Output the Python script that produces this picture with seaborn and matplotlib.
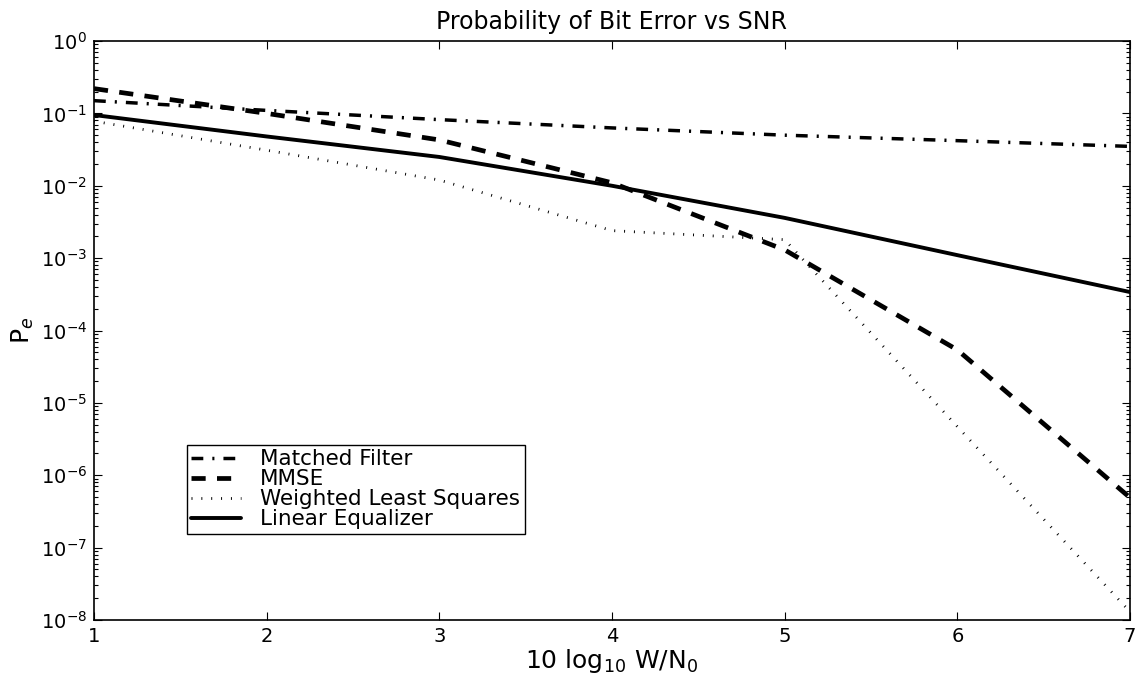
import numpy as np
import pandas as pd
import matplotlib
matplotlib.use("Agg")
import matplotlib.pyplot as plt
import matplotlib.ticker as mticker
import seaborn as sns

# SNR grid, 10 log10 W/N0
snr_db = [1, 2, 3, 4, 5, 6, 7]

# bit error probability
matched_filter = [0.15, 0.11, 0.082, 0.063, 0.050, 0.042, 0.035]
mmse = [0.22, 0.10, 0.043, 0.011, 0.0013, 5.4e-5, 4.9e-7]
weighted_ls = [0.078, 0.031, 0.012, 0.0024, 0.0018, 4.7e-6, 1.3e-8]
linear_eq = [0.095, 0.048, 0.025, 0.010, 0.0036, 1.1e-3, 3.4e-4]

methods = ["Matched Filter", "MMSE", "Weighted Least Squares", "Linear Equalizer"]

df = pd.DataFrame({
    "snr": snr_db * 4,
    "pe": matched_filter + mmse + weighted_ls + linear_eq,
    "method": [m for m in methods for _ in snr_db],
})

sns.set_style("ticks")
plt.rcParams["font.family"] = ["DejaVu Sans"]
plt.rcParams["mathtext.fontset"] = "dejavusans"
for key in ["text.color", "axes.labelcolor", "xtick.color", "ytick.color", "axes.edgecolor"]:
    plt.rcParams[key] = "black"

fig = plt.figure(figsize=(11.35, 6.77), dpi=100)
ax = fig.add_axes([0.0828, 0.0842, 0.9128, 0.8552])

# dash patterns in linewidth units, matlab-ish
dash_styles = {
    "Matched Filter": (3.4, 2.6, 0.6, 2.6),
    "MMSE": (3.0, 2.4),
    "Weighted Least Squares": (0.35, 3.2),
    "Linear Equalizer": "",
}
widths = {"Matched Filter": 2.5, "MMSE": 3.4, "Weighted Least Squares": 2.0, "Linear Equalizer": 2.8}

for m in methods:
    sub = df[df["method"] == m]
    sns.lineplot(data=sub, x="snr", y="pe", ax=ax, color="black",
                 linewidth=widths[m], label=m)
    ln = ax.lines[-1]
    if dash_styles[m]:
        ln.set_dashes(dash_styles[m])
        ln.set_dash_capstyle("butt")

ax.set_yscale("log")
ax.set_xlim(1, 7)
ax.set_ylim(1e-8, 1)
ax.set_xticks(snr_db)
ax.yaxis.set_major_locator(mticker.LogLocator(base=10, numticks=20))
ax.yaxis.set_minor_locator(mticker.LogLocator(base=10, subs=np.arange(2, 10), numticks=100))
ax.yaxis.set_minor_formatter(mticker.NullFormatter())

ax.tick_params(which="both", direction="in", top=True, right=True, labelsize=14, pad=5)
ax.tick_params(which="major", length=6, width=0.8)
ax.tick_params(which="minor", length=3, width=0.8)
for s in ax.spines.values():
    s.set_linewidth(1.2)

ax.set_title("Probability of Bit Error vs SNR", fontsize=17, pad=9)
ax.set_xlabel(r"10 log$_{10}$ W/N$_0$", fontsize=18, labelpad=1)
ax.set_ylabel(r"P$_e$", fontsize=18)
ax.yaxis.set_label_coords(-0.056, 0.5)

leg = ax.legend(loc="upper left", bbox_to_anchor=(187 / 1135, 1 - 445 / 677),
                bbox_transform=fig.transFigure, fontsize=15.5,
                frameon=True, fancybox=False, edgecolor="black", handlelength=2.3,
                borderpad=0.2, labelspacing=0.0, handletextpad=0.9, borderaxespad=0)
leg.get_frame().set_linewidth(1.0)
leg.get_frame().set_alpha(1)

fig.savefig("out.png", dpi=100)
